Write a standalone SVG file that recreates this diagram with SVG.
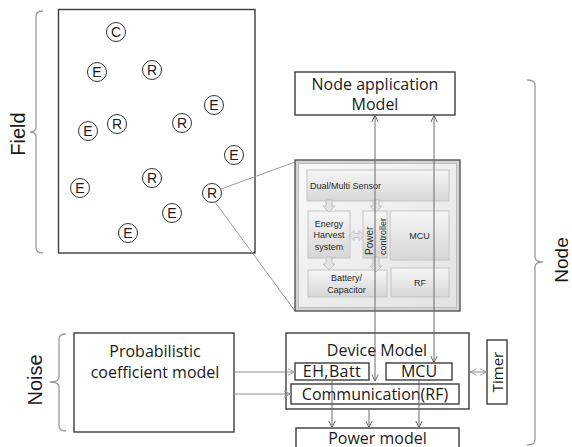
<svg xmlns="http://www.w3.org/2000/svg" width="572" height="447" viewBox="0 0 572 447">
<defs>
<style>
.box{fill:#fff;stroke:#3c3c3c;stroke-width:1.4}
.lbl{font-family:"Open Sans","Liberation Sans",sans-serif;font-size:16px;fill:#1a1a1a;text-anchor:middle}
.big{font-family:"Liberation Sans",Arial,sans-serif;font-size:20px;fill:#1a1a1a;text-anchor:middle}
.nd circle{fill:#fff;stroke:#333;stroke-width:1}
.nd text{font-family:"Liberation Sans",Arial,sans-serif;font-size:14px;fill:#1a1a1a;text-anchor:middle}
.brace{fill:none;stroke:#9a9a9a;stroke-width:1.3}
.conn{fill:none;stroke:#6a6a6a;stroke-width:1}
.connl{fill:none;stroke:#8c8c8c;stroke-width:1}
.link{fill:none;stroke:#9a9a9a;stroke-width:1}
.blk{fill:url(#gb);stroke:#c4c4c4;stroke-width:1}
.bt{font-family:"Liberation Sans",Arial,sans-serif;font-size:9px;fill:#2a2a2a;text-anchor:middle}
.barr{fill:#e4e4e4;stroke:#b8b8b8;stroke-width:0.8}
</style>
<linearGradient id="gb" x1="0" y1="0" x2="0" y2="1">
<stop offset="0" stop-color="#f6f6f6"/>
<stop offset="1" stop-color="#d6d6d6"/>
</linearGradient>
<linearGradient id="gp" x1="0" y1="0" x2="1" y2="1">
<stop offset="0" stop-color="#fafafa"/>
<stop offset="1" stop-color="#e2e2e2"/>
</linearGradient>
<marker id="ah" viewBox="0 0 8 8" refX="7.5" refY="4" markerWidth="8" markerHeight="8" markerUnits="userSpaceOnUse" orient="auto-start-reverse">
<path d="M1,0.8 L7.5,4 L1,7.2" fill="none" stroke="#6a6a6a" stroke-width="1"/>
</marker>
<marker id="ahl" viewBox="0 0 8 8" refX="7.5" refY="4" markerWidth="8" markerHeight="8" markerUnits="userSpaceOnUse" orient="auto-start-reverse">
<path d="M1,0.8 L7.5,4 L1,7.2" fill="none" stroke="#9a9a9a" stroke-width="1"/>
</marker>
</defs>

<!-- Field -->
<g id="field">
<rect x="58.5" y="9.5" width="196.5" height="243.5" fill="#fff" stroke="#3c3c3c" stroke-width="1.4"/>
<path class="brace" d="M43,11 Q36,11 36,16 L36,127 Q36,132 30,132 Q36,132 36,137 L36,248 Q36,253 43,253"/>
<text class="big" transform="translate(25,134) rotate(-90)">Field</text>
</g>
<g id="field-nodes" class="nd">
<g id="n-c"><circle cx="116" cy="32" r="9.5"/><text x="116" y="37">C</text></g>
<g id="n-e1"><circle cx="97" cy="72" r="9.5"/><text x="97" y="77">E</text></g>
<g id="n-r1"><circle cx="152" cy="70" r="9.5"/><text x="152" y="75">R</text></g>
<g id="n-e2"><circle cx="214" cy="105" r="9.5"/><text x="214" y="110">E</text></g>
<g id="n-r2"><circle cx="117" cy="124" r="9.5"/><text x="117" y="129">R</text></g>
<g id="n-e3"><circle cx="88" cy="131" r="9.5"/><text x="88" y="136">E</text></g>
<g id="n-r3"><circle cx="182" cy="123" r="9.5"/><text x="182" y="128">R</text></g>
<g id="n-e4"><circle cx="234" cy="155" r="9.5"/><text x="234" y="160">E</text></g>
<g id="n-e5"><circle cx="80" cy="188" r="9.5"/><text x="80" y="193">E</text></g>
<g id="n-r4"><circle cx="152" cy="178" r="9.5"/><text x="152" y="183">R</text></g>
<g id="n-r5"><circle cx="212" cy="193" r="9.5"/><text x="212" y="198">R</text></g>
<g id="n-e6"><circle cx="172" cy="213" r="9.5"/><text x="172" y="218">E</text></g>
<g id="n-e7"><circle cx="128" cy="233" r="9.5"/><text x="128" y="238">E</text></g>
</g>

<!-- zoom lines from R to board -->
<g id="zoom-lines">
<line class="link" x1="221" y1="189" x2="295" y2="162"/>
<line class="link" x1="215" y1="202" x2="295" y2="311"/>
</g>

<!-- Board -->
<g id="board">
<rect x="295" y="160" width="165" height="151" fill="#d4d4d4" stroke="#4a4a4a" stroke-width="1.3"/>
<rect x="298.5" y="163.5" width="158" height="144" fill="url(#gp)" stroke="#bdbdbd" stroke-width="1"/>
<rect class="blk" x="307" y="170" width="142" height="31"/>
<rect class="blk" x="308" y="211" width="42" height="47"/>
<rect class="blk" x="363" y="211" width="24" height="47"/>
<rect class="blk" x="390" y="211" width="59" height="49"/>
<rect class="blk" x="308" y="270" width="79" height="27"/>
<rect class="blk" x="391" y="268" width="58" height="29"/>
<path class="barr" d="M326,200 h6 v6 h3 l-6,6 l-6,-6 h3 z"/>
<path class="barr" d="M373,200 h6 v6 h3 l-6,6 l-6,-6 h3 z"/>
<path class="barr" d="M326,257 h6 v7 h3 l-6,6 l-6,-6 h3 z"/>
<path class="barr" d="M373,257 h6 v9 h3 l-6,6 l-6,-6 h3 z"/>
<path class="barr" d="M349,235.5 l5,-5 v3 h5 v-3 l5,5 l-5,5 v-3 h-5 v3 z"/>
<text class="bt" x="310" y="189" style="text-anchor:start">Dual/Multi Sensor</text>
<text class="bt" x="329" y="227">Energy</text>
<text class="bt" x="329" y="238">Harvest</text>
<text class="bt" x="329" y="249.5">system</text>
<text class="bt" transform="translate(373,255) rotate(-90)" style="text-anchor:start;font-size:10px">Power</text>
<text class="bt" transform="translate(385.5,255) rotate(-90)" style="text-anchor:start">controller</text>
<text class="bt" x="419.5" y="239">MCU</text>
<text class="bt" x="346.5" y="281">Battery/</text>
<text class="bt" x="346.5" y="293">Capacitor</text>
<text class="bt" x="420" y="286">RF</text>
</g>

<!-- Node application model -->
<g id="node-app">
<rect class="box" x="295" y="72" width="160" height="43"/>
<text class="lbl" x="375" y="90">Node application</text>
<text class="lbl" x="375" y="110">Model</text>
</g>

<!-- Node brace -->
<g id="node-brace">
<path class="brace" d="M527,80 Q535,80 535,85 L535,257 Q535,262 543,262 Q535,262 535,267 L535,440 Q535,445 527,445"/>
<text class="big" transform="translate(568,260) rotate(-90)" style="font-size:19px">Node</text>
</g>

<!-- Noise -->
<g id="noise">
<path class="brace" d="M66,334 Q59,334 59,339 L59,377 Q59,382 50,382 Q59,382 59,387 L59,426 Q59,431 66,431"/>
<text class="big" transform="translate(41.5,380) rotate(-90)">Noise</text>
</g>

<g id="prob">
<rect class="box" x="74" y="333" width="160" height="99"/>
<text class="lbl" x="155" y="357">Probabilistic</text>
<text class="lbl" x="155" y="378">coefficient model</text>
</g>

<g id="device">
<rect class="box" x="286" y="333" width="183" height="76"/>
<text class="lbl" x="377" y="356">Device Model</text>
</g>
<g id="ehbatt">
<rect class="box" x="295" y="363" width="74" height="17"/>
<text class="lbl" x="332" y="377" style="letter-spacing:0.4px">EH,Batt</text>
</g>
<g id="mcu">
<rect class="box" x="386" y="363" width="66" height="17"/>
<text class="lbl" x="419" y="377">MCU</text>
</g>
<g id="comm">
<rect class="box" x="291" y="384" width="168" height="20"/>
<text class="lbl" x="375" y="399.5">Communication(RF)</text>
</g>
<g id="power">
<rect class="box" x="296" y="428" width="163" height="26"/>
<text class="lbl" x="377.5" y="443.5">Power model</text>
</g>
<g id="timer">
<rect class="box" x="487" y="340" width="20" height="64"/>
<text class="lbl" transform="translate(502.5,372) rotate(-90)" style="font-size:15px">Timer</text>
</g>

<!-- Connectors -->
<g id="connectors">
<line class="conn" x1="375" y1="115.5" x2="375" y2="381" marker-start="url(#ah)" marker-end="url(#ah)"/>
<line class="conn" x1="434" y1="115.5" x2="434" y2="362.5" marker-start="url(#ah)" marker-end="url(#ah)"/>
<line class="connl" x1="234" y1="372" x2="294.5" y2="372" marker-end="url(#ahl)"/>
<line class="connl" x1="234" y1="394" x2="290.5" y2="394" marker-end="url(#ahl)"/>
<line class="conn" x1="332" y1="380" x2="332" y2="427.5" marker-end="url(#ah)"/>
<line class="conn" x1="369" y1="409" x2="369" y2="427.5" marker-end="url(#ah)"/>
<line class="conn" x1="419" y1="380" x2="419" y2="427.5" marker-end="url(#ah)"/>
<line class="connl" x1="470" y1="372" x2="486.5" y2="372" marker-start="url(#ahl)" marker-end="url(#ahl)"/>
</g>
</svg>
